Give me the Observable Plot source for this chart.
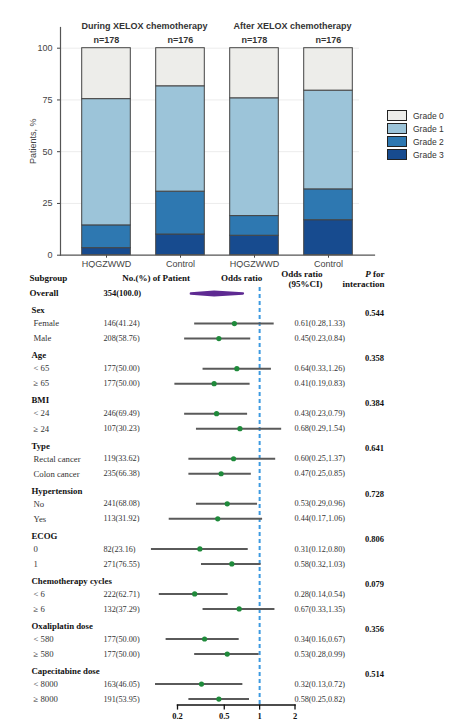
<!DOCTYPE html>
<html><head><meta charset="utf-8">
<script src="https://cdn.jsdelivr.net/npm/d3@7"></script>
<script src="https://cdn.jsdelivr.net/npm/@observablehq/plot@0.6"></script>
<style>
html,body{margin:0;padding:0;background:#fff;}
#wrap{position:relative;width:450px;height:725px;overflow:hidden;background:#fff;}
#top svg,#bottom svg{display:block;}
.legend{position:absolute;left:387px;top:109px;font-family:"Liberation Sans",Arial,sans-serif;font-size:8.5px;color:#333;}
.legend .item{display:flex;align-items:center;height:13px;}
.legend .sw{width:18px;height:9.5px;border:1.3px solid #222;margin-right:6px;}
</style></head><body>
<div id="wrap"><div id="top"></div><div id="bottom"></div><div class="legend" id="legend"></div></div>
<script>
// ---------- stacked bar data ----------
const barKeys = ["During-HQGZWWD","During-Control","After-HQGZWWD","After-Control"];
const barLabels = ["HQGZWWD","Control","HQGZWWD","Control"];
const nLabels = ["n=178","n=176","n=178","n=176"];
const phaseTitles = ["During XELOX chemotherapy","After XELOX chemotherapy"];
const phaseFirstBar = ["During-HQGZWWD","After-HQGZWWD"];
const grades = ["Grade 0","Grade 1","Grade 2","Grade 3"];
const gradeColors = ["#ededea","#9cc4d9","#2e78b1","#174b8f"];
const grade0 = [24.6,18.4,24.2,20.5];
const grade1 = [61.0,50.9,56.9,47.7];
const grade2 = [11.0,20.7,9.5,14.9];
const grade3 = [3.4,10.0,9.4,16.9];
const yTicks = [0,25,50,75,100];

// ---------- forest data ----------
const groupNames = ["Sex","Age","BMI","Type","Hypertension","ECOG","Chemotherapy cycles","Oxaliplatin dose","Capecitabine dose"];
const pInteraction = ["0.544","0.358","0.384","0.641","0.728","0.806","0.079","0.356","0.514"];
const subLabels = ["Female","Male","< 65","≥ 65","< 24","≥ 24","Rectal cancer","Colon cancer","No","Yes","0","1","< 6","≥ 6","< 580","≥ 580","< 8000","≥ 8000"];
const patients = ["146(41.24)","208(58.76)","177(50.00)","177(50.00)","246(69.49)","107(30.23)","119(33.62)","235(66.38)","241(68.08)","113(31.92)","82(23.16)","271(76.55)","222(62.71)","132(37.29)","177(50.00)","177(50.00)","163(46.05)","191(53.95)"];
const orPoint = [0.61,0.45,0.64,0.41,0.43,0.68,0.60,0.47,0.53,0.44,0.31,0.58,0.28,0.67,0.34,0.53,0.32,0.45];
const ciLow  = [0.28,0.23,0.33,0.19,0.23,0.29,0.25,0.25,0.29,0.17,0.12,0.32,0.14,0.33,0.16,0.28,0.13,0.25];
const ciHigh = [1.33,0.84,1.26,0.83,0.79,1.54,1.37,0.85,0.96,1.06,0.80,1.03,0.54,1.35,0.67,0.99,0.72,0.82];
const orText = ["0.61(0.28,1.33)","0.45(0.23,0.84)","0.64(0.33,1.26)","0.41(0.19,0.83)","0.43(0.23,0.79)","0.68(0.29,1.54)","0.60(0.25,1.37)","0.47(0.25,0.85)","0.53(0.29,0.96)","0.44(0.17,1.06)","0.31(0.12,0.80)","0.58(0.32,1.03)","0.28(0.14,0.54)","0.67(0.33,1.35)","0.34(0.16,0.67)","0.53(0.28,0.99)","0.32(0.13,0.72)","0.58(0.25,0.82)"];
const overallLabel = "Overall";
const overallN = "354(100.0)";
const overallOR = [0.41, 0.26, 0.72]; // estimate, low, high
const orTicks = [0.2,0.5,1,2];
const headerTexts = ["Subgroup","No.(%) of Patient","Odds ratio","Odds ratio\n(95%CI)","P for\ninteraction"];

// ---------- top chart ----------
const gradeSeries = [grade0, grade1, grade2, grade3];
const barData = [];
[3,2,1,0].forEach(g => barKeys.forEach((k,i) => barData.push({bar:k, grade:grades[g], value:gradeSeries[g][i]})));
const nData = barKeys.map((k,i) => ({bar:k, n:nLabels[i]}));
const phaseData = phaseTitles.map((t,i) => ({title:t, first:phaseFirstBar[i]}));

const topPlot = Plot.plot({
  width: 450, height: 268,
  marginTop: 27, marginBottom: 13.3, marginLeft: 60, marginRight: 76,
  style: {fontFamily: "'Liberation Sans', Arial, sans-serif", fontSize: "9px", color: "#444", background: "#fff"},
  x: {domain: barKeys, paddingInner: 0, paddingOuter: 0.107, tickFormat: k => barLabels[barKeys.indexOf(k)], tickSize: 3, tickPadding: 2, label: null},
  y: {domain: [0,110], ticks: yTicks, tickSize: 3, tickPadding: 5, label: "Patients, %", labelAnchor: "center", labelArrow: "none", labelOffset: 31},
  color: {domain: grades, range: gradeColors},
  marks: [
    Plot.gridY(yTicks.slice(1), {stroke: "#ececec", strokeOpacity: 1, insetRight: 15}),
    Plot.barY(barData, {x: "bar", y: "value", fill: "grade", stroke: "#444", strokeWidth: 1, insetLeft: 12.7, insetRight: 12.7}),
    Plot.frame({anchor: "left", stroke: "#555", strokeWidth: 1.2}),
    Plot.frame({anchor: "bottom", stroke: "#555", strokeWidth: 1.2}),
    Plot.text(nData, {x: "bar", y: 100, text: "n", dy: -8, fontWeight: "bold", fill: "#333", fontSize: 9}),
    Plot.text(phaseData, {x: "first", text: "title", frameAnchor: "top", dy: -5, dx: 38, fontWeight: "bold", fill: "#333", fontSize: 9})
  ]
});
document.getElementById("top").appendChild(topPlot);

// legend
const leg = document.getElementById("legend");
grades.forEach((g,i) => {
  const it = document.createElement("div"); it.className = "item";
  const sw = document.createElement("div"); sw.className = "sw"; sw.style.background = gradeColors[i];
  const tx = document.createElement("span"); tx.textContent = g;
  it.appendChild(sw); it.appendChild(tx); leg.appendChild(it);
});

// ---------- forest plot ----------
const groupRows = groupNames.map((g,i) => ({idx: 1 + 3*i, label: g, p: pInteraction[i]}));
const itemRows = subLabels.map((s,i) => ({
  idx: 2 + 3*Math.floor(i/2) + (i%2), label: s, n: patients[i],
  or: orPoint[i], lo: ciLow[i], hi: ciHigh[i], txt: orText[i]
}));
const diamond = [
  {x: overallOR[1], y: 0}, {x: overallOR[0], y: -0.12},
  {x: overallOR[2], y: 0}, {x: overallOR[0], y: 0.12}
];
const serif = "'Liberation Serif', 'Times New Roman', serif";
const hdr = headerTexts.map(t => ({t}));

const forest = Plot.plot({
  width: 450, height: 457,
  marginLeft: 177, marginRight: 155.5, marginTop: 10, marginBottom: 20.4,
  style: {fontFamily: serif, fontSize: "8.2px", color: "#222", background: "#fff"},
  x: {type: "log", domain: [0.2, 2], ticks: orTicks, tickFormat: d => String(d), tickSize: 5, tickPadding: 3, label: null},
  y: {domain: [-1, 27.4], reverse: true, axis: null},
  marks: [
    Plot.axisX({ticks: orTicks, tickFormat: d => String(d), tickSize: 5, tickPadding: 3, fontWeight: "bold", fontSize: 8.5, stroke: "#111", strokeWidth: 1.3, fill: "#111", label: null}),
    Plot.frame({anchor: "bottom", stroke: "#111", strokeWidth: 1.5}),
    Plot.ruleX([1], {stroke: "#3d9ae0", strokeWidth: 2, strokeDasharray: "4,3", insetTop: 9}),
    // headers
    Plot.text(hdr.slice(0,1), {y: () => -1, text: "t", frameAnchor: "left", dx: -148, textAnchor: "start", fontWeight: "bold", fontSize: 9, fill: "#111"}),
    Plot.text(hdr.slice(1,2), {y: () => -1, text: "t", frameAnchor: "left", dx: -55.3, fontWeight: "bold", fontSize: 9, fill: "#111"}),
    Plot.text(hdr.slice(2,3), {y: () => -1, text: "t", frameAnchor: "left", dx: 43.5, fontWeight: "bold", fontSize: 9, fill: "#111"}),
    Plot.text(hdr.slice(3,4), {y: () => -1, text: "t", frameAnchor: "right", dx: 27.5, fontWeight: "bold", fontSize: 9, fill: "#111", lineHeight: 1.1}),
    Plot.text(hdr.slice(4,5), {y: () => -1, text: "t", frameAnchor: "right", dx: 89.5, fontWeight: "bold", fontSize: 9, fill: "#111", lineHeight: 1.1}),
    // overall
    Plot.text([overallLabel], {y: () => 0, text: d => d, frameAnchor: "left", dx: -148, textAnchor: "start", fontWeight: "bold", fontSize: 9, fill: "#111"}),
    Plot.text([overallN], {y: () => 0, text: d => d, frameAnchor: "left", dx: -74, textAnchor: "start", fontWeight: "bold", fontSize: 8.5, fill: "#111"}),
    Plot.line(diamond, {x: "x", y: "y", curve: "linear-closed", fill: "#5e2a92", stroke: "#5e2a92", strokeWidth: 2.5, strokeLinejoin: "round"}),
    // group headers
    Plot.text(groupRows, {y: "idx", text: "label", frameAnchor: "left", dx: -146, dy: 2, textAnchor: "start", fontWeight: "bold", fontSize: 8.8, fill: "#111"}),
    Plot.text(groupRows, {y: "idx", text: "p", frameAnchor: "right", dx: 89, dy: 5, fontWeight: "bold", fontSize: 8.5, fill: "#111"}),
    // items
    Plot.text(itemRows, {y: "idx", text: "label", frameAnchor: "left", dx: -144, textAnchor: "start", fontSize: 8.7, fill: "#333"}),
    Plot.text(itemRows, {y: "idx", text: "n", frameAnchor: "left", dx: -74, textAnchor: "start", fontSize: 8.2, fill: "#333"}),
    Plot.text(itemRows, {y: "idx", text: "txt", frameAnchor: "right", dx: -0.5, textAnchor: "start", fontSize: 8.2, fill: "#333"}),
    Plot.ruleY(itemRows, {y: "idx", x1: "lo", x2: "hi", stroke: "#5a5a5a", strokeWidth: 2}),
    Plot.dot(itemRows, {y: "idx", x: "or", r: 2.6, fill: "#1f8a3b", stroke: "none"})
  ]
});
document.getElementById("bottom").appendChild(forest);

// italic P in "P for"
forest.querySelectorAll("tspan").forEach(ts => {
  if (ts.textContent === "P for") {
    ts.textContent = "";
    const ns = "http://www.w3.org/2000/svg";
    const a = document.createElementNS(ns, "tspan"); a.setAttribute("font-style", "italic"); a.textContent = "P";
    const b = document.createElementNS(ns, "tspan"); b.textContent = " for";
    ts.appendChild(a); ts.appendChild(b);
  }
});
</script>
</body></html>
